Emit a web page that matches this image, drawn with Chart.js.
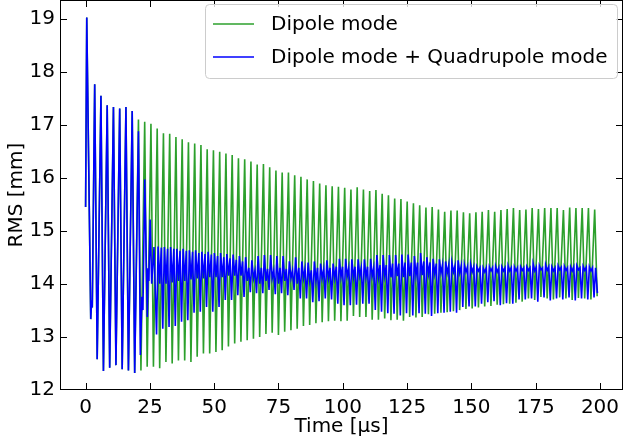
<!DOCTYPE html>
<html><head><meta charset="utf-8">
<script src="https://cdn.jsdelivr.net/npm/chart.js@4.4.1/dist/chart.umd.min.js"></script>
<style>html,body{margin:0;padding:0;background:#fff;}#wrap{width:624px;height:443px;}</style>
</head><body><div id="wrap"><canvas id="c" width="624" height="443"></canvas></div>
<script>
// ---- tick labels ----
const xTicks = [0, 25, 50, 75, 100, 125, 150, 175, 200];
const yTicks = [12, 13, 14, 15, 16, 17, 18, 19];
const seriesNames = ['Dipole mode', 'Dipole mode + Quadrupole mode'];

// ---- timing of the oscillation ----
const T0 = 22.98;      // time of green peak k=0 [us]
const PERIOD = 2.43;   // oscillation period [us]
const K0 = -8;         // index of first regular peak
const FALL = 0.97;     // peak -> trough delay [us]

// ---- start of both series (shared) ----
const initT = [0.0, 0.45, 2.0, 2.35, 2.6];
const initV = [15.45, 19.03, 13.33, 13.68, 13.55];

// ---- green (Dipole mode) peak values, k = -8 .. 72 ----
const greenPeaks = [
  17.77, 17.55, 17.37, 17.34, 17.31, 17.34, 17.26, 17.10,
  17.06, 17.02, 16.93, 16.84, 16.83, 16.77, 16.73, 16.67, 16.65, 16.62, 16.54, 16.52, 16.49, 16.46, 16.43, 16.37,
  16.35, 16.31, 16.25, 16.26, 16.20, 16.14, 16.10, 16.10, 16.05, 16.02, 15.97, 15.94, 15.89, 15.86, 15.84,
  15.83, 15.81, 15.78, 15.82, 15.78, 15.75, 15.77, 15.70, 15.67, 15.61, 15.60, 15.55, 15.52, 15.48, 15.44,
  15.45, 15.40, 15.36, 15.38, 15.38, 15.35, 15.33, 15.35, 15.36, 15.39, 15.36, 15.39, 15.41, 15.43, 15.39,
  15.40, 15.43, 15.41, 15.43, 15.43, 15.43, 15.39, 15.44, 15.43, 15.43, 15.43, 15.40
];
// ---- green trough values (after each peak), k = -8 .. 72 ----
const greenTroughs = [
  12.57, 12.35, 12.41, 12.46, 12.38, 12.36, 12.31, 12.36,
  12.43, 12.43, 12.40, 12.52, 12.49, 12.55, 12.55, 12.52, 12.62, 12.68, 12.68, 12.71, 12.74, 12.81, 12.87,
  12.90, 12.93, 12.96, 12.99, 13.05, 13.07, 13.03, 13.09, 13.12, 13.15, 13.20, 13.22, 13.25, 13.27, 13.29, 13.30,
  13.29, 13.30, 13.39, 13.37, 13.37, 13.32, 13.32, 13.34, 13.31, 13.32, 13.30, 13.37, 13.36, 13.37, 13.42,
  13.43, 13.45, 13.46, 13.48, 13.50, 13.52, 13.53, 13.55, 13.57, 13.58, 13.60, 13.61, 13.62, 13.64, 13.66,
  13.72, 13.69, 13.75, 13.72, 13.70, 13.74, 13.72, 13.69, 13.73, 13.72, 13.70, 13.76
];

// ---- blue (Dipole + Quadrupole) departure from the green curve ----
const transT = [20.55, 21.3, 21.9, 22.3, 23.0, 24.0, 24.3, 24.6, 25.1, 25.7, 26.6];
const transV = [16.88, 12.65, 13.75, 13.50, 15.97, 13.37, 14.29, 14.05, 15.21, 14.00, 14.69];

// ---- blue per-cycle values, k = 2 .. 72 ----
const blueLo = [
  13.04, 13.15, 13.18, 13.20, 13.28, 13.31, 13.45, 13.47, 13.56, 13.47, 13.56, 13.69, 13.69, 13.78,
  13.75, 13.84, 13.82, 13.82, 13.88, 13.80, 13.82, 13.78, 13.88, 13.72, 13.72, 13.65, 13.67, 13.72, 13.70,
  13.62, 13.59, 13.59, 13.60, 13.62, 13.62, 13.50, 13.47, 13.44, 13.43, 13.40, 13.44, 13.40, 13.44, 13.43,
  13.39, 13.44, 13.45, 13.47, 13.45, 13.56, 13.57, 13.57, 13.62, 13.65, 13.67, 13.59, 13.63, 13.62, 13.70,
  13.70, 13.72, 13.66, 13.74, 13.68, 13.72, 13.70, 13.74, 13.68, 13.72, 13.70, 13.74
];
const blueHi1 = [
  14.70, 14.69, 14.69, 14.66, 14.66, 14.63, 14.63, 14.60, 14.60, 14.58, 14.58, 14.56, 14.55, 14.52,
  14.50, 14.44, 14.52, 14.54, 14.54, 14.52, 14.52, 14.42, 14.50, 14.42, 14.40, 14.42, 14.38, 14.44, 14.38,
  14.47, 14.47, 14.46, 14.46, 14.46, 14.47, 14.54, 14.54, 14.54, 14.54, 14.55, 14.55, 14.52, 14.58, 14.50,
  14.47, 14.46, 14.42, 14.40, 14.44, 14.36, 14.37, 14.32, 14.30, 14.32, 14.33, 14.32, 14.34, 14.32, 14.32,
  14.32, 14.38, 14.34, 14.36, 14.32, 14.34, 14.33, 14.32, 14.34, 14.33, 14.32, 14.30
];
const blueMid = [
  14.00, 14.00, 14.02, 14.05, 14.05, 14.08, 14.10, 14.10, 14.12, 14.12, 14.12, 14.15, 14.15, 14.15,
  14.05, 14.10, 14.00, 14.05, 14.10, 14.00, 14.05, 14.10, 14.00, 14.10, 14.05, 14.05, 14.10, 14.10, 14.10,
  14.12, 14.14, 14.12, 14.14, 14.12, 14.14, 14.12, 14.14, 14.12, 14.14, 14.12, 14.14, 14.15, 14.16, 14.18,
  14.18, 14.20, 14.20, 14.22, 14.20, 14.22, 14.22, 14.24, 14.22, 14.24, 14.22, 14.24, 14.24, 14.24, 14.25,
  14.25, 14.24, 14.26, 14.25, 14.24, 14.26, 14.25, 14.24, 14.26, 14.25, 14.24, 14.26
];
const blueHi2 = [
  14.68, 14.66, 14.66, 14.62, 14.62, 14.60, 14.58, 14.56, 14.55, 14.52, 14.50, 14.48, 14.45, 14.42,
  14.30, 14.25, 14.30, 14.28, 14.25, 14.30, 14.28, 14.25, 14.30, 14.28, 14.25, 14.30, 14.28, 14.30, 14.32,
  14.32, 14.30, 14.32, 14.30, 14.32, 14.30, 14.35, 14.35, 14.38, 14.38, 14.40, 14.40, 14.40, 14.42, 14.40,
  14.38, 14.36, 14.36, 14.34, 14.34, 14.32, 14.32, 14.30, 14.30, 14.30, 14.30, 14.30, 14.30, 14.30, 14.30,
  14.30, 14.31, 14.30, 14.32, 14.30, 14.31, 14.30, 14.32, 14.30, 14.31, 14.30, 14.30
];
const blueEnd = {t: 199.0, v: 13.82};

const GREEN = '#2ca02c', BLUE = '#0000ff';
const FONT = {family: 'DejaVu Sans', size: 20};

function tk(k) { return T0 + k * PERIOD; }

function buildGreen() {
  const pts = initT.map((t, i) => ({x: t, y: initV[i]}));
  greenPeaks.forEach((v, i) => {
    const k = i + K0;
    pts.push({x: tk(k), y: v});
    pts.push({x: tk(k) + FALL, y: greenTroughs[i]});
  });
  return pts;
}
function buildBlue() {
  const pts = initT.map((t, i) => ({x: t, y: initV[i]}));
  for (let k = K0; k <= -2; k++) {
    const i = k - K0;
    pts.push({x: tk(k), y: greenPeaks[i]});
    pts.push({x: tk(k) + FALL, y: greenTroughs[i]});
  }
  transT.forEach((t, i) => pts.push({x: t, y: transV[i]}));
  blueLo.forEach((lo, i) => {
    const k = i + 2;
    pts.push({x: tk(k) - 0.25, y: lo});
    pts.push({x: tk(k) + 0.35, y: blueHi1[i]});
    if (tk(k) + 1.6 < blueEnd.t) {
      pts.push({x: tk(k) + 1.0, y: blueMid[i]});
      pts.push({x: tk(k) + 1.6, y: blueHi2[i]});
    }
  });
  pts.push({x: blueEnd.t, y: blueEnd.v});
  return pts;
}

const frame = {
  id: 'frame',
  afterDraw(chart) {
    const {ctx, chartArea: a} = chart;
    const xs = chart.scales.x, ys = chart.scales.y;
    ctx.save();
    ctx.strokeStyle = '#000';
    ctx.lineWidth = 1;
    ctx.strokeRect(a.left + 0.5, a.top + 0.5, a.right - a.left - 1, a.bottom - a.top - 1);
    const L = 7;
    ctx.beginPath();
    xTicks.forEach(v => {
      const p = Math.round(xs.getPixelForValue(v)) + 0.5;
      ctx.moveTo(p, a.bottom); ctx.lineTo(p, a.bottom - L);
      ctx.moveTo(p, a.top); ctx.lineTo(p, a.top + L);
    });
    yTicks.forEach(v => {
      const p = Math.round(ys.getPixelForValue(v)) + 0.5;
      ctx.moveTo(a.left, p); ctx.lineTo(a.left + L, p);
      ctx.moveTo(a.right, p); ctx.lineTo(a.right - L, p);
    });
    ctx.stroke();
    // legend (matplotlib style, upper right)
    const bx = 205.5, by = 4.5, bw = 412, bh = 74, r = 4;
    ctx.beginPath();
    ctx.moveTo(bx + r, by); ctx.lineTo(bx + bw - r, by); ctx.arcTo(bx + bw, by, bx + bw, by + r, r);
    ctx.lineTo(bx + bw, by + bh - r); ctx.arcTo(bx + bw, by + bh, bx + bw - r, by + bh, r);
    ctx.lineTo(bx + r, by + bh); ctx.arcTo(bx, by + bh, bx, by + bh - r, r);
    ctx.lineTo(bx, by + r); ctx.arcTo(bx, by, bx + r, by, r);
    ctx.closePath();
    ctx.fillStyle = 'rgba(255,255,255,0.8)';
    ctx.fill();
    ctx.strokeStyle = '#cccccc';
    ctx.stroke();
    const ds = chart.data.datasets;
    const rows = [24, 57];
    ds.forEach((d, i) => {
      ctx.strokeStyle = d.borderColor;
      ctx.lineWidth = 1.6;
      ctx.beginPath(); ctx.moveTo(213, rows[i]); ctx.lineTo(254, rows[i]); ctx.stroke();
      ctx.fillStyle = '#000';
      ctx.font = FONT.size + 'px "DejaVu Sans"';
      ctx.textBaseline = 'middle';
      ctx.textAlign = 'left';
      ctx.fillText(d.label, 271, rows[i] + 1);
    });
    ctx.restore();
  }
};

new Chart(document.getElementById('c'), {
  type: 'line',
  data: {
    datasets: [
      {label: seriesNames[0], data: buildGreen(), borderColor: GREEN, borderWidth: 1.6, pointRadius: 0, fill: false, order: 1},
      {label: seriesNames[1], data: buildBlue(), borderColor: BLUE, borderWidth: 1.6, pointRadius: 0, fill: false, order: 0}
    ]
  },
  options: {
    responsive: false,
    animation: false,
    parsing: false,
    layout: {padding: {left: 0, right: 1, top: 0, bottom: 0}},
    plugins: {legend: {display: false}, tooltip: {enabled: false}},
    elements: {line: {tension: 0}},
    scales: {
      x: {
        type: 'linear', min: -9.95, max: 208.95,
        afterBuildTicks: s => { s.ticks = xTicks.map(v => ({value: v})); },
        afterFit: s => { s.height = 53; s.paddingLeft = 0; s.paddingRight = 0; },
        grid: {display: false, drawTicks: false},
        border: {display: false},
        ticks: {padding: 6, font: FONT, color: '#000', maxRotation: 0, autoSkip: false},
        title: {display: true, text: 'Time [μs]', font: FONT, color: '#000', padding: {top: 0, bottom: 4}}
      },
      y: {
        type: 'linear', min: 11.99, max: 19.36,
        afterBuildTicks: s => { s.ticks = yTicks.map(v => ({value: v})); },
        afterFit: s => { s.width = 60; s.paddingTop = 0; s.paddingBottom = 0; },
        grid: {display: false, drawTicks: false},
        border: {display: false},
        ticks: {padding: 5, font: FONT, color: '#000', autoSkip: false},
        title: {display: true, text: 'RMS [mm]', font: FONT, color: '#000', padding: {top: 5, bottom: 0}}
      }
    }
  },
  plugins: [frame]
});
</script>
</body></html>
